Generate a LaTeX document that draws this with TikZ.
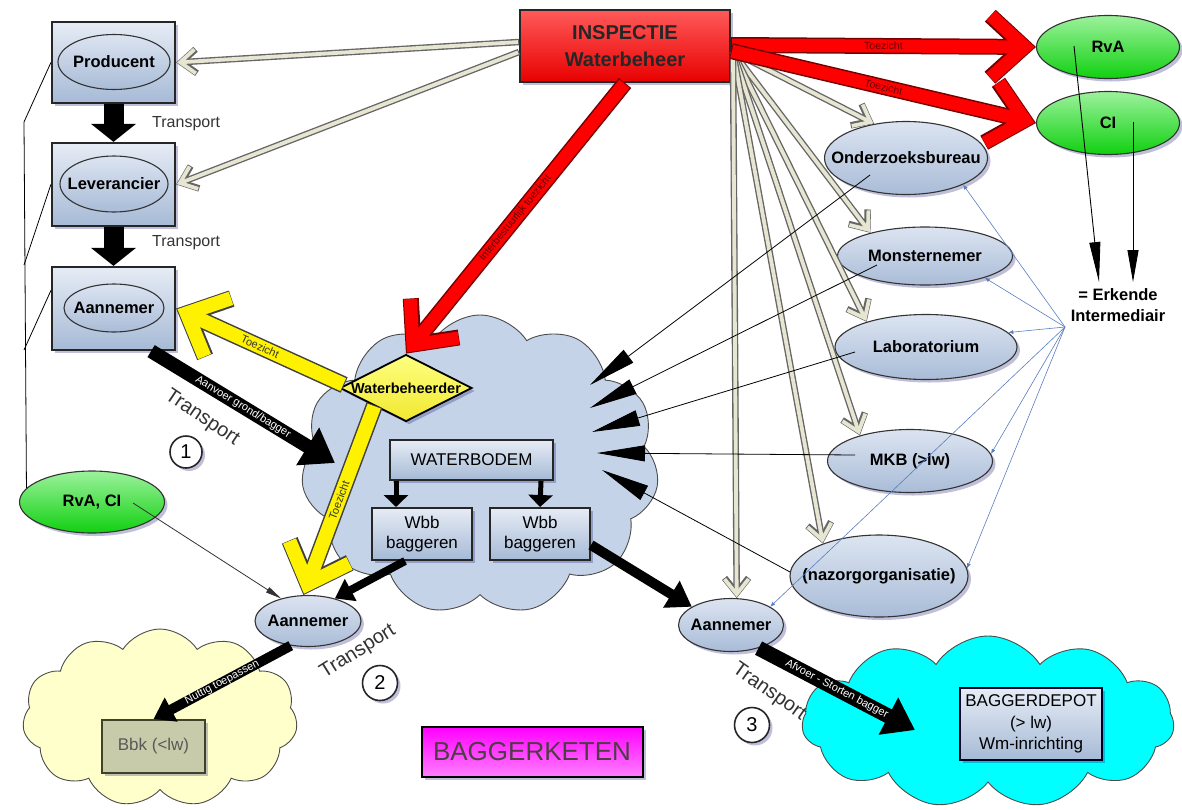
\documentclass[tikz,border=0pt]{standalone}
\usepackage{fontspec}
\setmainfont{Liberation Sans}
\usetikzlibrary{shapes.geometric,shapes.symbols,arrows.meta,calc,shadows}

\definecolor{boxtop}{HTML}{E6ECF5}
\definecolor{boxbot}{HTML}{A6BAD6}
\definecolor{ovtop}{HTML}{DCE4F1}
\definecolor{ovbot}{HTML}{A9BCD7}
\definecolor{wolkblauw}{HTML}{C5D3E8}
\definecolor{wolkgeel}{HTML}{FFFFCC}
\definecolor{grtop}{HTML}{9CF29C}
\definecolor{grbot}{HTML}{10D010}
\definecolor{roodlicht}{HTML}{FF5A5A}
\definecolor{rooddonker}{HTML}{E80000}
\definecolor{geellicht}{HTML}{FFFF80}
\definecolor{geeldonker}{HTML}{F0E830}
\definecolor{beige}{HTML}{E6E6D2}
\definecolor{olijf}{HTML}{C8CBA9}
\definecolor{olijfrand}{HTML}{3F4128}
\definecolor{lijnblauw}{HTML}{5A7EC0}
\definecolor{cyaan}{HTML}{00FFFF}

\newcommand{\ovt}[1]{\makebox[0pt]{#1}}

\tikzset{
  schaduw/.style={drop shadow={shadow xshift=3pt, shadow yshift=-3pt, opacity=.25, fill=black!60!blue}},
  box/.style={draw=black!85, line width=2.2, top color=boxtop, bottom color=boxbot, inner sep=0},
  vak/.style={draw=black!85, line width=2, top color=boxtop, bottom color=boxbot, inner sep=0, font=\fontsize{17pt}{20pt}\selectfont},
  oval/.style={ellipse, draw=black!80, line width=1.1, top color=ovtop, bottom color=ovbot, inner sep=0, font=\bfseries\fontsize{16.5pt}{19pt}\selectfont},
  groen/.style={top color=grtop, bottom color=grbot},
  wolk/.style={cloud, cloud puffs=11, cloud puff arc=115, draw=black!70, line width=0.9, inner sep=0},
  rood/.style={draw=red!45!black, line width=16, -{Straight Barb[length=34pt, width=62pt]},
    postaction={draw=red, line width=13, shorten >=1.5pt, shorten <=1pt, -{Straight Barb[length=34pt, width=62pt]}}},
  geel/.style={draw=black!75, line width=17, -{Straight Barb[length=34pt, width=64pt]},
    postaction={draw=yellow, line width=14, shorten >=1.5pt, shorten <=1pt, -{Straight Barb[length=34pt, width=64pt]}}},
  dubbel/.style={draw=black!60, line width=6.5, -{Straight Barb[length=15pt, width=24pt]},
    postaction={draw=beige, line width=3.8, shorten >=1pt, shorten <=1pt, -{Straight Barb[length=15pt, width=24pt]}}},
  blk/.style n args={3}{draw=black, line width=#1, -{Triangle[length=#2, width=#3]}},
  wig/.style={draw=black, line width=0.8, -{Triangle[length=48pt, width=16pt]}},
  erkpijl/.style={draw=black, line width=0.9, -{Triangle[length=#1, width=11pt]}},
  dun/.style={draw=black!80, line width=0.8, -{Triangle[length=16pt, width=6pt]}},
  blauw/.style={draw=lijnblauw, line width=0.6, -{Latex[length=5pt, width=4pt]}},
  rlbl/.style={pos=.5, sloped, inner sep=0, text=red!40!black, font=\fontsize{10.5pt}{10.5pt}\selectfont},
  glbl/.style={pos=.5, sloped, inner sep=0, text=black!80, font=\fontsize{11pt}{11pt}\selectfont},
  wlbl/.style={pos=.5, sloped, inner sep=0, text=white, font=\fontsize{11pt}{11pt}\selectfont},
  nummer/.style={circle, draw=black!85, line width=1.6, minimum size=#1, inner sep=0, font=\fontsize{20pt}{20pt}\selectfont},
  transp/.style={text=black!80, inner sep=0, font=\fontsize{20pt}{20pt}\selectfont}
}

\begin{document}
\begin{tikzpicture}[x=1pt, y=-1pt, every node/.style={font=\fontsize{16pt}{19pt}\selectfont}]
\useasboundingbox (0,0) rectangle (1182,809);

% wolken
\node[wolk, fill=wolkblauw, minimum width=358, minimum height=300] (bed) at (480,465) {};
\node[wolk, fill=wolkgeel, minimum width=275, minimum height=178] (geelwolk) at (160,718) {};
\node[wolk, fill=cyaan, minimum width=372, minimum height=172] (depotwolk) at (988,722) {};

% keten links
\node[box, schaduw, minimum width=123, minimum height=81] (prodbox) at (113.5,62.5) {};
\node[oval, minimum width=112, minimum height=55] (prod) at (114,62) {\ovt{Producent}};
\node[box, schaduw, minimum width=123, minimum height=83] (levbox) at (113.5,184.5) {};
\node[oval, minimum width=108, minimum height=56] (lev) at (114,184) {\ovt{Leverancier}};
\node[box, schaduw, minimum width=123, minimum height=83] (aanbox) at (113.5,308.5) {};
\node[oval, minimum width=100, minimum height=48] (aan1) at (114,308) {\ovt{Aannemer}};
\node[oval, groen, schaduw, minimum width=145, minimum height=62] (rvaci) at (92,502) {\ovt{RvA, CI}};

% inspectie en erkenning
\node[draw=black!85, line width=2, top color=roodlicht, bottom color=rooddonker, schaduw,
  minimum width=210, minimum height=72, align=center, text=black!85,
  font=\bfseries\fontsize{20pt}{27pt}\selectfont] (insp) at (625,46) {INSPECTIE\\Waterbeheer};
\node[oval, groen, schaduw, minimum width=143, minimum height=63] (rva) at (1108,47) {\ovt{RvA}};
\node[oval, groen, schaduw, minimum width=143, minimum height=63] (ci) at (1108,123) {\ovt{CI}};
\node[align=center, inner sep=0, font=\bfseries\fontsize{16.5pt}{21pt}\selectfont] (erk) at (1118,305) {= Erkende\\Intermediair};

% intermediairs
\node[oval, schaduw, minimum width=163, minimum height=73] (ond) at (906,158) {\ovt{Onderzoeksbureau}};
\node[oval, schaduw, minimum width=175, minimum height=58] (mon) at (925,256) {\ovt{Monsternemer}};
\node[oval, schaduw, minimum width=182, minimum height=65] (lab) at (926,347) {\ovt{Laboratorium}};
\node[oval, schaduw, minimum width=165, minimum height=63] (mkb) at (910,461) {\ovt{MKB (>lw)}};
\node[oval, schaduw, minimum width=178, minimum height=82] (naz) at (879,576) {\ovt{(nazorgorganisatie)}};
\node[oval, schaduw, minimum width=105, minimum height=53] (aan3) at (731,625) {\ovt{Aannemer}};
\node[oval, schaduw, minimum width=106, minimum height=51] (aan2) at (308,621) {\ovt{Aannemer}};

% waterbodem
\node[diamond, draw=black, line width=1.8, top color=geellicht, bottom color=geeldonker, schaduw,
  minimum width=132, minimum height=67, inner sep=0,
  font=\bfseries\fontsize{14.5pt}{16pt}\selectfont] (wbh) at (406,388) {\ovt{Waterbeheerder}};
\node[vak, schaduw, minimum width=163, minimum height=40] (wbod) at (471.5,460) {WATERBODEM};
\node[vak, schaduw, minimum width=100, minimum height=52, align=center] (wbb1) at (422,534) {Wbb\\baggeren};
\node[vak, schaduw, minimum width=100, minimum height=52, align=center] (wbb2) at (540,534) {Wbb\\baggeren};

% bestemmingen
\node[draw=olijfrand, line width=2, fill=olijf, text=black!65, schaduw, minimum width=103, minimum height=53,
  font=\fontsize{17pt}{20pt}\selectfont] (bbk) at (153.5,746.5) {Bbk (<lw)};
\node[vak, draw=black!85!blue, line width=2.5, schaduw, minimum width=142, minimum height=72, align=center,
  font=\fontsize{17pt}{21.5pt}\selectfont] (depot) at (1031,724) {BAGGERDEPOT\\(> lw)\\Wm-inrichting};
\node[draw=black, line width=2, top color=magenta, bottom color=magenta!50!white, schaduw,
  minimum width=221, minimum height=50, text=black!80!magenta,
  font=\fontsize{26pt}{30pt}\selectfont] (keten) at (532,752) {BAGGERKETEN};

% vrije eindpunten
\coordinate (j1) at (24,122);
\coordinate (j2) at (24,265);
\coordinate (j3) at (24,350);
\coordinate (waaier) at (733,52);
\coordinate (hub) at (1065,327);
\coordinate (e1) at (1099,282);
\coordinate (e2) at (1133,282);
\coordinate (inlaat) at (335,463);
\coordinate (stort) at (915,730);
\coordinate (w1) at (590,385);
\coordinate (w2) at (590,408);
\coordinate (w3) at (592,432);
\coordinate (w4) at (597,453);
\coordinate (w5) at (602,470);

% lijnen naar RvA, CI
\draw[line width=0.8] (prodbox.west) -- (j1) -- (rvaci.168);
\draw[line width=0.8] (levbox.west) -- (j2);
\draw[line width=0.8] ($(aanbox.west)+(0,-18)$) -- (j3);
\draw[dun] ($(rvaci)+(41,1)$) -- (aan2.140);

% transport links
\draw[blk={20}{18pt}{44pt}] (prodbox.south) -- (levbox.north);
\draw[blk={20}{18pt}{44pt}] (levbox.south) -- (aanbox.north);

% toezicht inspectie
\draw[dubbel] ($(insp.west)+(0,-4)$) -- (prodbox.east);
\draw[dubbel] ($(insp.west)+(0,6)$) -- (levbox.east);
\foreach \doel in {ond.133, mon.157, lab.157, mkb.153, naz.150, aan3.78}
  \draw[dubbel] (waaier) -- (\doel);
\draw[rood] ($(insp.east)+(0,-1)$) -- node[rlbl] {Toezicht} (rva.west);
\draw[rood] ($(insp.east)+(0,5)$) -- node[rlbl] {Toezicht} (ci.west);
\draw[rood] (insp.south) -- node[rlbl] {Interbestuurlijk toezicht} (wbh.north);

% toezicht waterbeheerder
\draw[geel] ($(wbh.west)+(5,-3)$) -- node[glbl] {Toezicht} (aanbox.east);
\draw[geel] ($(wbh.south west)+(2,0)$) -- node[glbl] {Toezicht} (aan2.100);

% intermediairs naar waterbodem
\draw[wig] ($(ond)+(-36,17)$) -- (w1);
\draw[wig] ($(mon)+(-48,9)$) -- (w2);
\draw[wig] ($(lab)+(-71,5)$) -- (w3);
\draw[wig] ($(mkb)+(-55,-6)$) -- (w4);
\draw[wig] ($(naz)+(-89,-4)$) -- (w5);

% erkenning
\draw[erkpijl=40pt] ($(rva)+(-34,-1)$) -- (e1);
\draw[erkpijl=32pt] ($(ci)+(25,-1)$) -- (e2);
\foreach \doel in {ond.-25, mon.-20, lab.10, mkb.5, naz.5, aan3.25}
  \draw[blauw] (hub) -- (\doel);

% baggerstromen
\draw[blk={14}{32pt}{42pt}] ($(aanbox.south east)+(-25,0)$) -- node[wlbl] {Aanvoer grond/bagger} (inlaat);
\draw[blk={5}{12pt}{24pt}] ($(wbod.south west)+(7,0)$) -- ($(wbb1.north west)+(25,0)$);
\draw[blk={5}{12pt}{24pt}] ($(wbod.south east)+(-13,0)$) -- (wbb2.north);
\draw[blk={8}{18pt}{24pt}] ($(wbb1.south)+(-17,0)$) -- (aan2.40);
\draw[blk={10}{24pt}{30pt}] ($(wbb2.east)+(0,11)$) -- (aan3.155);
\draw[blk={10}{20pt}{26pt}] (aan2.235) -- node[wlbl] {Nuttig toepassen} (bbk.north);
\draw[blk={15}{30pt}{40pt}] (aan3.-40) -- node[wlbl] {Afvoer - Storten bagger} (stort);

% transport teksten
\node[anchor=west, inner sep=0, text=black!80] (tp1) at (152,124) {Transport};
\node[anchor=west, inner sep=0, text=black!80] (tp2) at (152,243) {Transport};
\node[transp, rotate=-34] (tr1) at (202,418) {Transport};
\node[transp, rotate=32] (tr2) at (358,652) {Transport};
\node[transp, rotate=-35] (tr3) at (769,692) {Transport};
\node[nummer=32, schaduw, fill=white] (nr1) at (186,452) {1};
\node[nummer=35, schaduw, fill=white] (nr2) at (380,683) {2};
\node[nummer=35, schaduw, fill=white] (nr3) at (752,725) {3};

\end{tikzpicture}
\end{document}
